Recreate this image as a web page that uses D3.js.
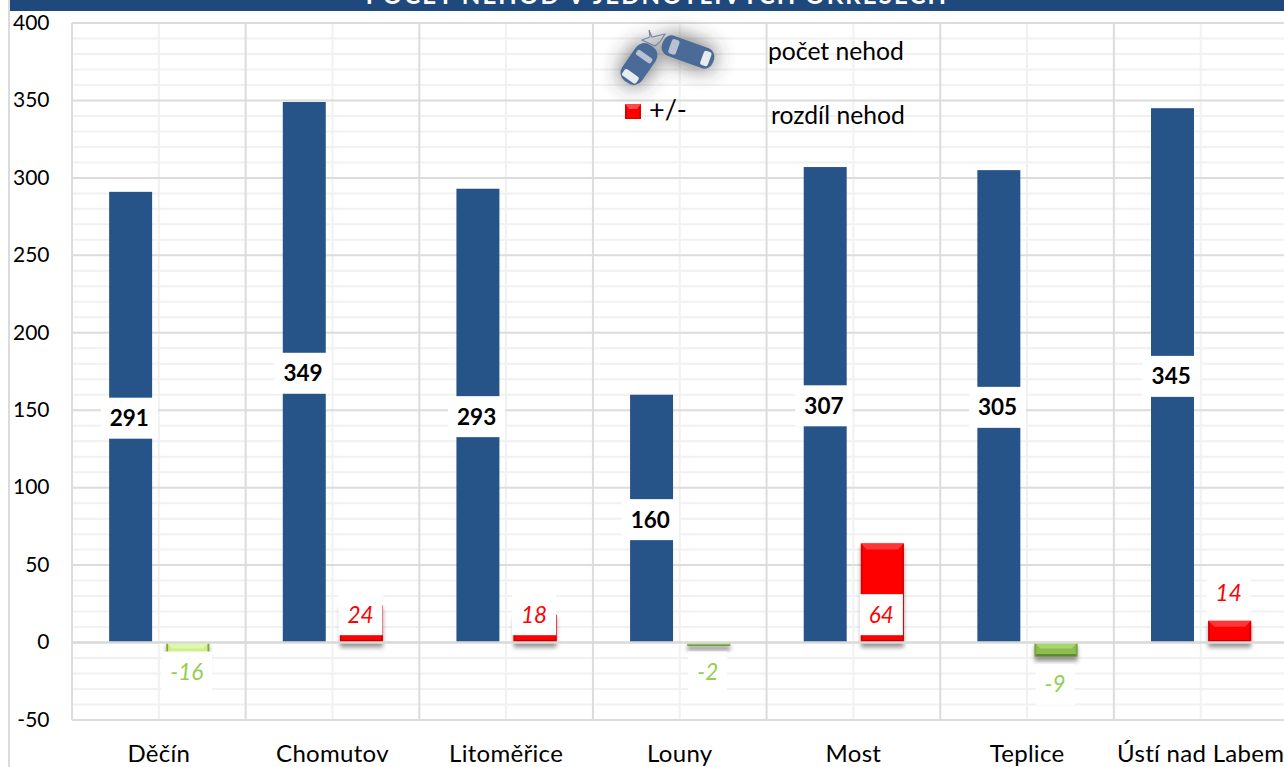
<!DOCTYPE html>
<html>
<head>
<meta charset="utf-8">
<script src="https://cdn.jsdelivr.net/npm/d3@7/dist/d3.min.js"></script>
<style>
html,body{margin:0;padding:0;background:#fff;overflow:hidden}
svg{display:block}
text{font-family:Lato,"Open Sans",sans-serif}
</style>
</head>
<body>
<svg id="c" width="1284" height="767"></svg>
<script>
// ---- data ----
const categories = ["Děčín","Chomutov","Litoměřice","Louny","Most","Teplice","Ústí nad Labem"];
const accidents = [291,349,293,160,307,305,345];
const differences = [-16,24,18,-2,64,-9,14];
const yTickValues = [-50,0,50,100,150,200,250,300,350,400];
const minorStep = 10;
const titleText = "POČET NEHOD V JEDNOTLIVÝCH OKRESECH";
const legendCount = "počet nehod";
const legendDiff = "rozdíl nehod";
const legendSign = "+/-";

// ---- layout ----
const W = 1284, H = 767;
const plot = {l:72, r:1287.5, t:23, b:720};
// where each difference label sits, on the value axis
const diffLabelAnchors = [-19,18,18,-19,18,-27,32];
const countNudge = 0.8;

const svg = d3.select("#c");
const x = d3.scaleBand().domain(categories).range([plot.l,plot.r]);
const sub = d3.scaleBand().domain(["count","diff"]).range([0,x.bandwidth()]).paddingInner(0.2586).paddingOuter(0.627);
const y = d3.scaleLinear().domain([-50,400]).range([plot.b,plot.t]);

const defs = svg.append("defs");
defs.append("filter").attr("id","sh").attr("x","-30%").attr("y","-30%").attr("width","160%").attr("height","160%")
  .append("feGaussianBlur").attr("stdDeviation",2);
defs.append("filter").attr("id","glow").attr("x","-80%").attr("y","-80%").attr("width","260%").attr("height","260%")
  .append("feGaussianBlur").attr("stdDeviation",11);

// frame + title strip
svg.append("line").attr("x1",9).attr("x2",9).attr("y1",0).attr("y2",H).attr("stroke","#cfcfcf").attr("stroke-width",1.5);
svg.append("rect").attr("x",10).attr("y",0).attr("width",W-10).attr("height",11).attr("fill","#1f497d");
svg.append("text").attr("x",657).attr("y",3.5).attr("text-anchor","middle").attr("fill","#fff")
  .attr("font-size",24).attr("font-weight",700).attr("letter-spacing",2.1).text(titleText);

// grid
const minorVals = d3.range(-50,401,minorStep).filter(v=>v%50!==0);
const grid = svg.append("g");
grid.selectAll("line.hm").data(minorVals).join("line").attr("class","hm")
  .attr("x1",plot.l).attr("x2",plot.r).attr("y1",d=>y(d)).attr("y2",d=>y(d)).attr("stroke","#f1f1f1").attr("stroke-width",2);
grid.selectAll("line.vm").data(categories).join("line").attr("class","vm")
  .attr("x1",d=>x(d)+x.bandwidth()/2).attr("x2",d=>x(d)+x.bandwidth()/2).attr("y1",plot.t).attr("y2",plot.b).attr("stroke","#f1f1f1").attr("stroke-width",2);
grid.selectAll("line.hM").data(yTickValues.filter(v=>v!==0)).join("line").attr("class","hM")
  .attr("x1",plot.l).attr("x2",plot.r).attr("y1",d=>y(d)).attr("y2",d=>y(d)).attr("stroke","#dcdcdc").attr("stroke-width",2);
grid.selectAll("line.vM").data(categories.concat([null])).join("line").attr("class","vM")
  .attr("x1",d=>d?x(d):plot.r).attr("x2",d=>d?x(d):plot.r).attr("y1",plot.t).attr("y2",plot.b).attr("stroke","#dcdcdc").attr("stroke-width",2);

// shadows under the difference bars
svg.append("g").selectAll("rect").data(differences).join("rect")
  .attr("x",(d,i)=>x(categories[i])+sub("diff"))
  .attr("width",sub.bandwidth())
  .attr("y",d=>d>=0?y(d)+3:y(0)+3)
  .attr("height",d=>Math.abs(y(d)-y(0))+2)
  .attr("fill","#555").attr("opacity",0.6).attr("filter","url(#sh)");

// accident bars
svg.append("g").selectAll("rect").data(accidents).join("rect")
  .attr("x",(d,i)=>x(categories[i])+sub("count")+countNudge)
  .attr("width",sub.bandwidth())
  .attr("y",d=>y(d)).attr("height",d=>y(0)-y(d))
  .attr("fill","#265388");

// difference bars with bevel
function palette(v){
  if(v>=0) return {main:"#ff0000",top:"#ff3636",side:"#d80000",bot:"#a80000"};
  if(v===-16) return {main:"#cdf08e",top:"#e0f8ac",side:"#7da63f",bot:"#6f9a38"};
  return {main:"#8fbd52",top:"#a9d66a",side:"#78a640",bot:"#5d8a2e"};
}
const dg = svg.append("g");
differences.forEach((v,i)=>{
  const x0 = x(categories[i])+sub("diff"), w = sub.bandwidth();
  const y0 = Math.min(y(v),y(0)), h = Math.abs(y(v)-y(0));
  const b = Math.min(6,h/2), p = palette(v), g = dg.append("g");
  const poly = pts=>g.append("polygon").attr("points",pts.map(q=>q.join(",")).join(" "));
  g.append("rect").attr("x",x0).attr("y",y0).attr("width",w).attr("height",h).attr("fill",p.main);
  poly([[x0,y0],[x0+w,y0],[x0+w-b,y0+b],[x0+b,y0+b]]).attr("fill",p.top);
  poly([[x0,y0],[x0+b*.3,y0+b*.3],[x0+b*.3,y0+h-b*.3],[x0,y0+h]]).attr("fill",p.side);
  poly([[x0+w,y0],[x0+w-b*.3,y0+b*.3],[x0+w-b*.3,y0+h-b*.3],[x0+w,y0+h]]).attr("fill",p.side);
  poly([[x0,y0+h],[x0+b*.4,y0+h-b*.4],[x0+w-b*.4,y0+h-b*.4],[x0+w,y0+h]]).attr("fill",p.bot);
});

// zero line
svg.append("line").attr("x1",plot.l).attr("x2",plot.r).attr("y1",y(0)).attr("y2",y(0)).attr("stroke","#d9d9d9").attr("stroke-width",2.5);

// labels with white plates
function plate(sel, pad, h){
  sel.each(function(){
    const t = d3.select(this), len = this.getComputedTextLength();
    const cx = +t.attr("x"), cy = +t.attr("y");
    d3.select(this.parentNode).insert("rect","text")
      .attr("x",cx-len/2-pad/2).attr("width",len+pad)
      .attr("y",cy-h/2).attr("height",h).attr("fill","#fff");
  });
}
accidents.forEach((v,i)=>{
  const g = svg.append("g");
  const t = g.append("text")
    .attr("x",x(categories[i])+sub("count")+sub.bandwidth()/2-0.5)
    .attr("y",y(v/2)+1).attr("dy","0.35em").attr("text-anchor","middle")
    .attr("font-size",22.5).attr("font-weight",700).attr("fill","#000").text(v);
  plate(t,18,41);
});
differences.forEach((v,i)=>{
  const g = svg.append("g");
  const t = g.append("text")
    .attr("x",x(categories[i])+sub("diff")+sub.bandwidth()/2-1)
    .attr("y",y(diffLabelAnchors[i])).attr("dy","0.35em").attr("text-anchor","middle")
    .attr("font-size",22.5).attr("font-style","italic").attr("fill",v>=0?"#ff0000":"#92d050").text(v);
  plate(t,18,41);
});

// axes
const yAxis = d3.axisLeft(y).tickValues(yTickValues).tickSize(0).tickPadding(0).tickFormat(d=>String(d));
const ya = svg.append("g").attr("transform","translate(49.5,-0.5)").call(yAxis);
const xAxis = d3.axisBottom(x).tickSize(0).tickPadding(0);
const xa = svg.append("g").attr("transform",`translate(0,${plot.b+25})`).call(xAxis);
[ya,xa].forEach(a=>{a.select(".domain").remove();a.selectAll("text").attr("font-family","Lato").attr("fill","#000").attr("font-size",21);});
xa.selectAll("text").attr("font-size",24).attr("letter-spacing",0.3);

// legend
const car = (g,cx,cy,rot,L,Wd)=>{
  const c = g.append("g").attr("transform",`translate(${cx},${cy}) rotate(${rot})`);
  c.append("rect").attr("x",-L/2).attr("y",-Wd/2).attr("width",L).attr("height",Wd).attr("rx",Wd*0.42).attr("fill","#4a6a98");
  return c;
};
const glow = svg.append("g").attr("filter","url(#glow)").attr("opacity",0.8);
[[639,64,-55,44,24],[688,52,20,54,22]].forEach(a=>car(glow,...a).select("rect").attr("fill","#333"));
const cars = svg.append("g");
const c1 = car(cars,639,64,-55,44,24);
const c2 = car(cars,688,52,20,54,21);
const win = (c,x0,w,hh,col)=>c.append("rect").attr("x",x0).attr("y",-hh/2).attr("width",w).attr("height",hh).attr("rx",2.5).attr("fill",col);
win(c1,-19,8,17,"#e8ebf0"); win(c1,6,6,18,"#b8c2d2");
win(c2,-19,8,15,"#b8c2d2"); win(c2,15,8,15,"#e8ebf0");
svg.append("polygon")
  .attr("points","649,30 652,37 665,34 660,42 655,46 642,40 650,37")
  .attr("fill","none").attr("stroke","#6f86aa").attr("stroke-width",1.1);
// legend square
const sq = svg.append("g");
sq.append("rect").attr("x",625).attr("y",104).attr("width",16).attr("height",15).attr("fill","#e00000");
sq.append("rect").attr("x",627).attr("y",108).attr("width",12).attr("height",10).attr("fill","#ff0000");
sq.append("polygon").attr("points","625,104 641,104 637,109 629,109").attr("fill","#ff4a4a");
svg.append("text").attr("x",649).attr("y",119).attr("font-size",27).attr("fill","#000").text(legendSign);
svg.append("text").attr("x",768).attr("y",60).attr("font-size",24.7).attr("fill","#000").text(legendCount);
svg.append("text").attr("x",771).attr("y",124).attr("font-size",24.7).attr("fill","#000").text(legendDiff);
</script>
</body>
</html>
